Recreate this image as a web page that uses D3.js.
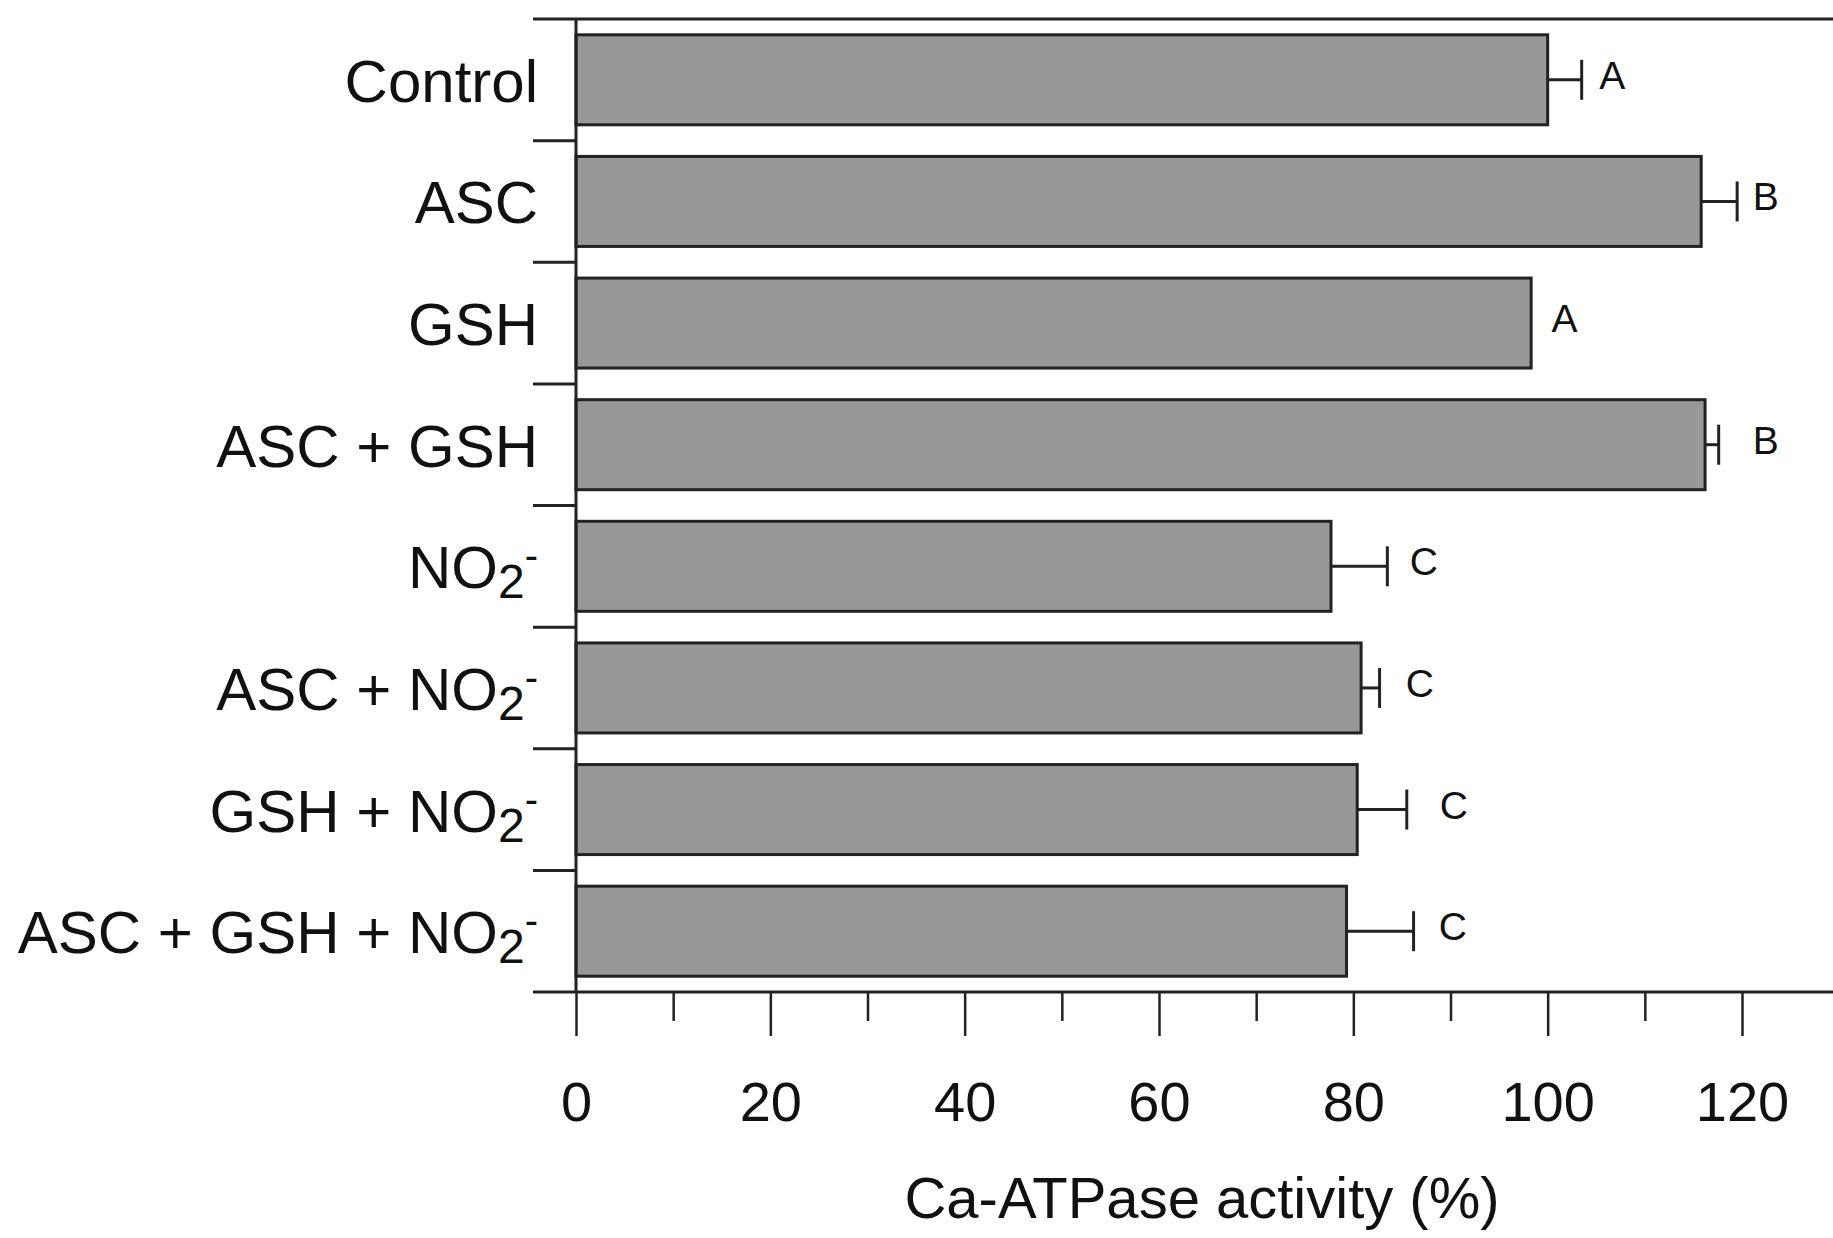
<!DOCTYPE html>
<html>
<head>
<meta charset="utf-8">
<script src="https://cdn.jsdelivr.net/npm/d3@7/dist/d3.min.js"></script>
<style>
  html, body { margin: 0; padding: 0; background: #fff; }
  svg { display: block; }
  text { font-family: "Liberation Sans", Arial, Helvetica, sans-serif; fill: #111; }
</style>
</head>
<body>
<svg id="chart" width="1833" height="1238"></svg>
<script>
// Treatments, mean Ca-ATPase activity (% of control), SE and significance letters
const categories = ["Control", "ASC", "GSH", "ASC + GSH", "NO2-", "ASC + NO2-", "GSH + NO2-", "ASC + GSH + NO2-"];
const activity = [100, 115.8, 98.3, 116.2, 77.7, 80.8, 80.4, 79.3];
const stdErr = [3.5, 3.7, 0, 1.4, 5.8, 1.9, 5.1, 6.9];
const letters = ["A", "B", "A", "B", "C", "C", "C", "C"];
// where each significance letter begins, in activity units
const letterAt = [105.3, 121.1, 100.4, 121.1, 85.8, 85.4, 88.9, 88.8];
const majorTicks = [0, 20, 40, 60, 80, 100, 120];
const minorTicks = [10, 30, 50, 70, 90, 110, 130];
const axisTitle = "Ca-ATPase activity (%)";

(function draw() {
  const svg = d3.select("#chart");
  const W = 1833;
  const plotLeft = 576, plotTop = 19, plotBottom = 992;
  const ink = "#222";

  const x = d3.scaleLinear().domain([0, 120]).range([plotLeft, 1742]);
  const y = d3.scaleBand().domain(categories).range([plotTop, plotBottom])
    .paddingInner(0.26).paddingOuter(0.13);
  const step = y.step();
  const bw = y.bandwidth();

  // bars
  svg.append("g").selectAll("rect").data(categories).join("rect")
    .attr("x", x(0))
    .attr("y", c => y(c))
    .attr("width", (c, i) => x(activity[i]) - x(0))
    .attr("height", bw)
    .attr("fill", "#989898")
    .attr("stroke", ink)
    .attr("stroke-width", 3);

  // error bars (positive side only)
  const eb = svg.append("g").attr("stroke", ink).attr("stroke-width", 3);
  categories.forEach((c, i) => {
    if (stdErr[i] <= 0) return;
    const cy = y(c) + bw / 2;
    const x0 = x(activity[i]), x1 = x(activity[i] + stdErr[i]);
    eb.append("line").attr("x1", x0).attr("x2", x1).attr("y1", cy).attr("y2", cy);
    eb.append("line").attr("x1", x1).attr("x2", x1).attr("y1", cy - 20).attr("y2", cy + 20);
  });

  // significance letters
  svg.append("g").selectAll("text").data(categories).join("text")
    .attr("x", (c, i) => x(letterAt[i]))
    .attr("y", c => y(c) + bw / 2 - 5)
    .attr("dy", "0.36em")
    .attr("font-size", 39)
    .text((c, i) => letters[i]);

  // frame lines: top, left, bottom
  svg.append("line").attr("x1", 533).attr("x2", W).attr("y1", plotTop).attr("y2", plotTop)
    .attr("stroke", ink).attr("stroke-width", 3);
  svg.append("line").attr("x1", plotLeft).attr("x2", plotLeft).attr("y1", plotTop).attr("y2", plotBottom)
    .attr("stroke", ink).attr("stroke-width", 3);
  svg.append("line").attr("x1", 533).attr("x2", W).attr("y1", plotBottom).attr("y2", plotBottom)
    .attr("stroke", ink).attr("stroke-width", 3);

  // category separators on the left axis
  const edges = categories.map(c => y(c) - (step - bw) / 2).slice(1);
  svg.append("g").selectAll("line").data(edges).join("line")
    .attr("x1", 533).attr("x2", plotLeft)
    .attr("y1", d => d).attr("y2", d => d)
    .attr("stroke", ink).attr("stroke-width", 3);

  // category labels, with NO2- set as subscript 2 and superscript minus
  const lab = svg.append("g");
  categories.forEach(c => {
    const t = lab.append("text")
      .attr("x", 538)
      .attr("y", y(c) + bw / 2 + 22)
      .attr("text-anchor", "end")
      .attr("font-size", 60);
    const idx = c.indexOf("NO2-");
    if (idx < 0) { t.text(c); return; }
    t.append("tspan").text(c.slice(0, idx) + "NO");
    t.append("tspan").attr("font-size", 48).attr("dy", 10).text("2");
    t.append("tspan").attr("font-size", 40).attr("dy", -29).text("-");
  });

  // bottom axis: major and minor ticks
  const major = d3.axisBottom(x).tickValues(majorTicks).tickSize(44).tickPadding(45)
    .tickFormat(d3.format("d"));
  const gMaj = svg.append("g").attr("transform", `translate(0,${plotBottom})`).call(major);
  gMaj.select(".domain").remove();
  gMaj.selectAll(".tick line").attr("stroke", ink).attr("stroke-width", 2.5);
  gMaj.selectAll(".tick text").attr("font-size", 56).attr("fill", "#111")
    .attr("font-family", "'Liberation Sans', Arial, sans-serif");

  const minor = d3.axisBottom(x).tickValues(minorTicks).tickSize(29).tickFormat("");
  const gMin = svg.append("g").attr("transform", `translate(0,${plotBottom})`).call(minor);
  gMin.select(".domain").remove();
  gMin.selectAll(".tick line").attr("stroke", ink).attr("stroke-width", 2.5);

  // axis title
  svg.append("text")
    .attr("x", 1202).attr("y", 1218)
    .attr("text-anchor", "middle")
    .attr("font-size", 58)
    .text(axisTitle);
})();
</script>
</body>
</html>
